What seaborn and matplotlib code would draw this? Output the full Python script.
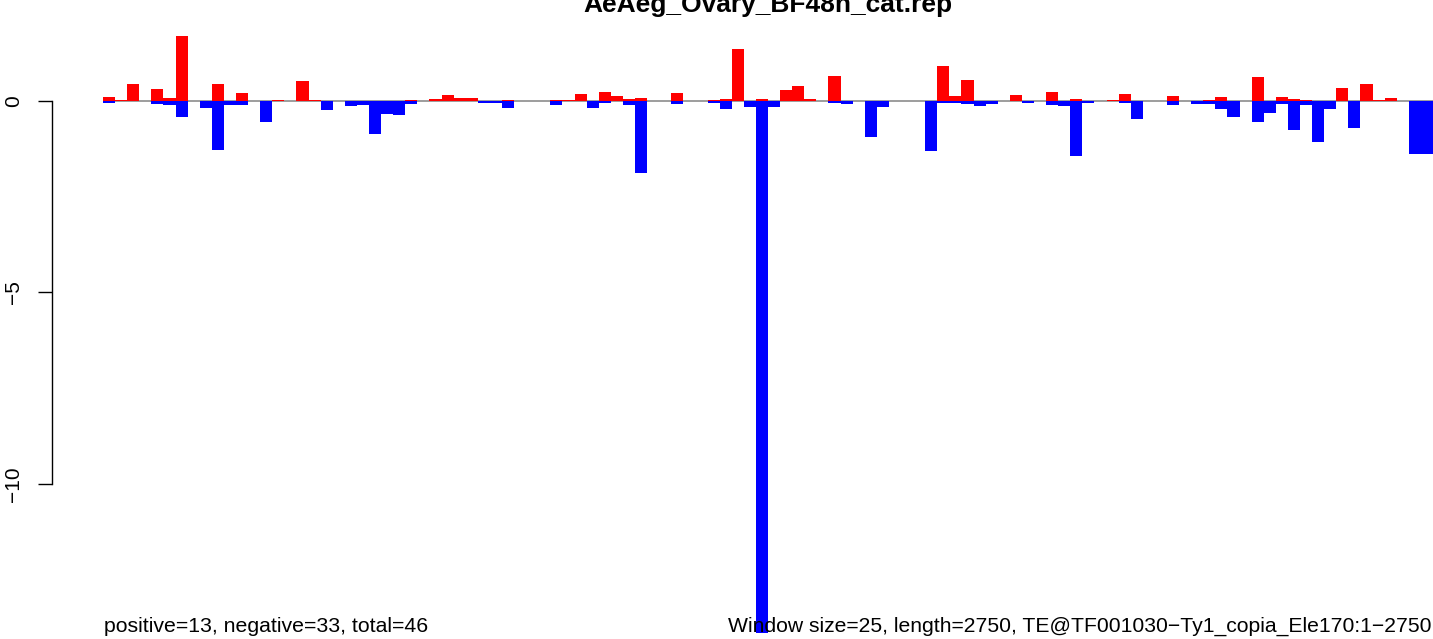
import numpy as np
import pandas as pd
import matplotlib
matplotlib.use("Agg")
import matplotlib.pyplot as plt
import seaborn as sns

title = "AeAeg_Ovary_BF48h_cat.rep"
left_note = "positive=13, negative=33, total=46"
right_note = "Window size=25, length=2750, TE@TF001030\u2212Ty1_copia_Ele170:1\u22122750"

positive = [0.10, 0.035, 0.44, 0, 0.31, 0.08, 1.71, 0, 0, 0.44,
            0, 0.21, 0, 0, 0.03, 0, 0.52, 0.03, 0, 0,
            0, 0, 0, 0, 0, 0.03, 0, 0.05, 0.16, 0.08,
            0.08, 0, 0, 0.03, 0, 0, 0, 0.03, 0.03, 0.18,
            0, 0.235, 0.13, 0.05, 0.08, 0, 0, 0.21, 0, 0,
            0.03, 0.05, 1.36, 0, 0.05, 0, 0.29, 0.39, 0.05, 0,
            0.65, 0, 0, 0, 0, 0, 0, 0, 0, 0.91,
            0.13, 0.55, 0, 0, 0, 0.16, 0, 0, 0.235, 0,
            0.05, 0, 0, 0.03, 0.18, 0, 0, 0, 0.13, 0,
            0, 0.03, 0.10, 0, 0, 0.63, 0, 0.10, 0.05, 0.03,
            0, 0, 0.34, 0, 0.44, 0.03, 0.08, 0, 0, 0]
negative = [-0.05, 0, 0, 0, -0.08, -0.10, -0.42, 0, -0.18, -1.28,
            -0.10, -0.10, 0, -0.55, 0, 0, 0, 0, -0.24, 0,
            -0.12, -0.10, -0.85, -0.34, -0.36, -0.07, 0, 0, 0, 0,
            0, -0.04, -0.04, -0.18, 0, 0, 0, -0.10, 0, 0,
            -0.18, -0.05, 0, -0.10, -1.88, 0, 0, -0.08, 0, 0,
            -0.05, -0.21, 0, -0.16, -13.9, -0.16, 0, 0, 0, 0,
            -0.05, -0.08, 0, -0.94, -0.16, 0, 0, 0, -1.31, -0.05,
            -0.05, -0.08, -0.13, -0.08, 0, 0, -0.05, 0, -0.10, -0.13,
            -1.44, -0.05, 0, 0, -0.05, -0.47, 0, 0, -0.10, 0,
            -0.08, -0.08, -0.21, -0.42, 0, -0.55, -0.31, -0.08, -0.76, -0.10,
            -1.07, -0.21, 0, -0.71, 0, 0, 0, 0, -1.38, -1.38]
yticks = [0, -5, -10]
ytick_labels = ["0", "\u22125", "\u221210"]

n = len(positive)
window = list(range(n))
df = pd.DataFrame({"window": window, "positive": positive, "negative": negative})

plt.rcParams["font.family"] = ["Liberation Sans", "DejaVu Sans"]

W, H = 1433, 639
fig = plt.figure(figsize=(W / 100, H / 100), dpi=100)

# pixel geometry of plot region (R-style, partially outside the image)
ppu = 1330 / 110.0
px_left = 103 - 4.2 * ppu
px_right = 103 + 114.2 * ppu
px_top, px_bottom = 12, 657
y0_px, ppy = 101, 38.27

ax = fig.add_axes([px_left / W, (H - px_bottom) / H,
                   (px_right - px_left) / W, (px_bottom - px_top) / H])
ax.set_facecolor("none")

ax.hlines(0, -0.5, n - 0.5, color="#8c8c8c", linewidth=1.2, zorder=1)
sns.barplot(data=df, x="window", y="positive", color="#FF0000", saturation=1,
            width=1.0, linewidth=0, edgecolor="none", ax=ax, zorder=2)
sns.barplot(data=df, x="window", y="negative", color="#0000FF", saturation=1,
            width=1.0, linewidth=0, edgecolor="none", ax=ax, zorder=3)
for p in ax.patches:
    p.set_clip_on(False)

ax.set_xlim(-0.5 - 4.2, n - 0.5 + 4.2)
ax.set_ylim(-(px_bottom - y0_px) / ppy, (y0_px - px_top) / ppy)

ax.set_xticks([])
ax.set_xlabel("")
ax.set_ylabel("")
for s in ["top", "right", "bottom"]:
    ax.spines[s].set_visible(False)
ax.spines["left"].set_bounds(-10, 0)
ax.spines["left"].set_linewidth(1.0)
ax.set_yticks(yticks)
ax.set_yticklabels(ytick_labels, rotation=90, va="center", fontsize=15)
ax.tick_params(axis="y", direction="out", length=10, width=1.0, pad=11)

fig.text(768 / W, 1 - 12 / H, title, ha="center", va="baseline",
         fontsize=19, fontweight="bold")
fig.text(104 / W, 1 - 632 / H, left_note, ha="left", va="baseline", fontsize=15.3)
fig.text(1431 / W, 1 - 632 / H, right_note, ha="right", va="baseline", fontsize=15.25)

fig.savefig("out.png", dpi=100)
